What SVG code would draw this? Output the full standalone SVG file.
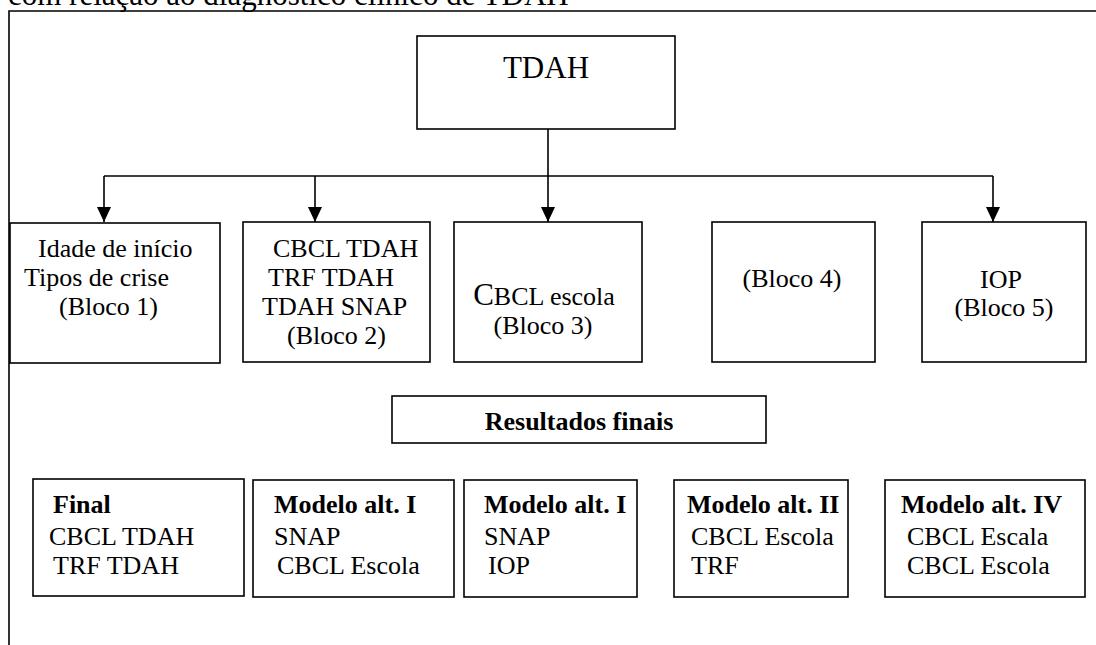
<svg xmlns="http://www.w3.org/2000/svg" width="1096" height="645" viewBox="0 0 1096 645" font-family="'Liberation Serif', Tinos, 'Times New Roman', 'DejaVu Serif', serif">
<defs>
<marker id="arr" markerUnits="userSpaceOnUse" markerWidth="16" markerHeight="14" refX="15" refY="7" orient="auto">
<path d="M0,0 L15,7 L0,14 Z" fill="#000"/>
</marker>
<style>
text{font-family:'Liberation Serif',Tinos,'Times New Roman','DejaVu Serif',serif;font-size:26px;fill:#000}
.b{font-weight:bold}
.m{text-anchor:middle}
.n{fill:#fff;stroke:#000;stroke-width:1.6}
.c{fill:none;stroke:#000;stroke-width:1.6}
</style>
</defs>
<rect width="1096" height="645" fill="#fff"/>
<text x="8" y="5" style="font-size:31px">com relação ao diagnóstico clínico de TDAH</text>
<path class="c" d="M9,645 V11 H1096"/>
<g id="connectors">
<path class="c" d="M548,129 V176"/>
<path class="c" d="M104,176 H993"/>
<path class="c" d="M104,176 V222" marker-end="url(#arr)"/>
<path class="c" d="M315,176 V222" marker-end="url(#arr)"/>
<path class="c" d="M548,176 V222" marker-end="url(#arr)"/>
<path class="c" d="M993,176 V222" marker-end="url(#arr)"/>
</g>
<g id="tdah">
<rect class="n" x="417" y="36" width="258" height="93"/>
<text x="546" y="78" class="m" style="font-size:31px">TDAH</text>
</g>
<g id="bloco1">
<rect class="n" x="10" y="223" width="210" height="140"/>
<text x="38" y="257">Idade de início</text>
<text x="24" y="286">Tipos de crise</text>
<text x="59" y="315">(Bloco 1)</text>
</g>
<g id="bloco2">
<rect class="n" x="243" y="222" width="187" height="140"/>
<text x="273" y="257">CBCL TDAH</text>
<text x="268" y="286">TRF TDAH</text>
<text x="262" y="315">TDAH SNAP</text>
<text x="287" y="344">(Bloco 2)</text>
</g>
<g id="bloco3">
<rect class="n" x="454" y="222" width="188" height="140"/>
<text x="544" y="305" class="m"><tspan style="font-size:31px">C</tspan>BCL escola</text>
<text x="543" y="334" class="m">(Bloco 3)</text>
</g>
<g id="bloco4">
<rect class="n" x="712" y="222" width="163" height="140"/>
<text x="792" y="287" class="m">(Bloco 4)</text>
</g>
<g id="bloco5">
<rect class="n" x="922" y="222" width="164" height="140"/>
<text x="1001" y="288" class="m">IOP</text>
<text x="1004" y="316" class="m">(Bloco 5)</text>
</g>
<g id="resultados">
<rect class="n" x="392" y="396" width="374" height="47"/>
<text x="579" y="430" class="m b">Resultados finais</text>
</g>
<g id="final">
<rect class="n" x="33" y="479" width="211" height="117"/>
<text x="53" y="513" class="b">Final</text>
<text x="49" y="545">CBCL TDAH</text>
<text x="53" y="574">TRF TDAH</text>
</g>
<g id="modelo1a">
<rect class="n" x="253" y="480" width="201" height="117"/>
<text x="274" y="513" class="b">Modelo alt. I</text>
<text x="274" y="545">SNAP</text>
<text x="277" y="574">CBCL Escola</text>
</g>
<g id="modelo1b">
<rect class="n" x="464" y="480" width="173" height="117"/>
<text x="484" y="513" class="b">Modelo alt. I</text>
<text x="484" y="545">SNAP</text>
<text x="488" y="574">IOP</text>
</g>
<g id="modelo2">
<rect class="n" x="674" y="480" width="174" height="117"/>
<text x="687" y="513" class="b">Modelo alt. II</text>
<text x="691" y="545">CBCL Escola</text>
<text x="691" y="574">TRF</text>
</g>
<g id="modelo4">
<rect class="n" x="885" y="480" width="200" height="117"/>
<text x="901" y="513" class="b">Modelo alt. IV</text>
<text x="907" y="545">CBCL Escala</text>
<text x="907" y="574">CBCL Escola</text>
</g>
</svg>
